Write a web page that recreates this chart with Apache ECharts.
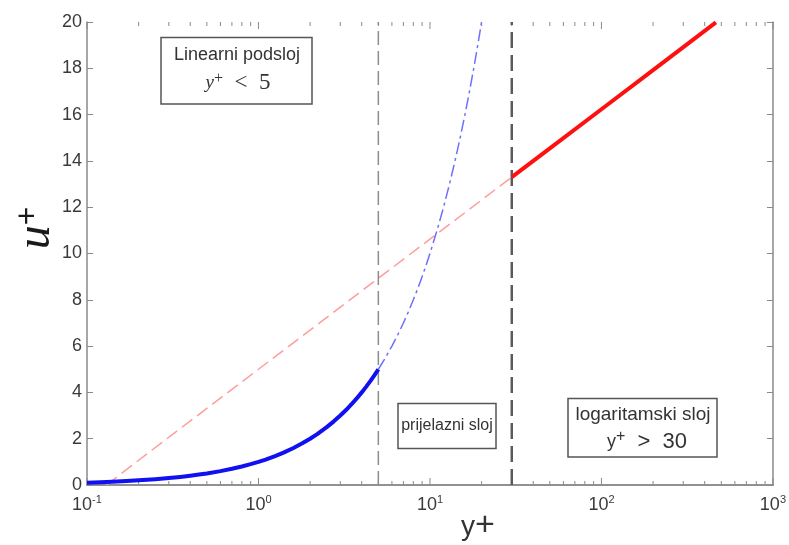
<!DOCTYPE html>
<html>
<head>
<meta charset="utf-8">
<script src="https://cdn.jsdelivr.net/npm/echarts@6/dist/echarts.min.js"></script>
<style>html,body{margin:0;padding:0;background:#fff;}#c{width:789px;height:545px;}</style>
</head>
<body>
<div id="c"></div>
<script>
// ---- data ----
const xTickExponents = ['-1', '0', '1', '2', '3'];
const xMajorTicks = [0.1, 1, 10, 100, 1000];
const xMinorTicks = [0.2,0.3,0.4,0.5,0.6,0.7,0.8,0.9, 2,3,4,5,6,7,8,9, 20,30,40,50,60,70,80,90, 200,300,400,500,600,700,800,900];
// viscous sublayer u+ = y+ (solid, y+ < 5)
const linearSolid = [[0.1,0.1],[0.12,0.12],[0.14,0.14],[0.17,0.17],[0.2,0.2],[0.25,0.25],[0.3,0.3],[0.35,0.35],[0.4,0.4],[0.45,0.45],[0.5,0.5],[0.6,0.6],[0.7,0.7],[0.8,0.8],[0.9,0.9],[1,1],[1.1,1.1],[1.25,1.25],[1.4,1.4],[1.6,1.6],[1.8,1.8],[2,2],[2.2,2.2],[2.5,2.5],[2.75,2.75],[3,3],[3.25,3.25],[3.5,3.5],[3.75,3.75],[4,4],[4.25,4.25],[4.5,4.5],[4.75,4.75],[5,5]];
// continuation of linear law (dashed)
const linearDashed = [[5,5],[5.5,5.5],[6,6],[6.5,6.5],[7,7],[7.5,7.5],[8,8],[8.5,8.5],[9,9],[9.5,9.5],[10,10],[11,11],[12,12],[13,13],[14,14],[15,15],[16,16],[17,17],[18,18],[19,19],[20,20]];
// log law extension (dashed, light red)
const logDashed = [[0.13,0],[0.2,1.07],[0.5,3.31],[1,5.0],[2,6.69],[5,8.93],[10,10.62],[20,12.31],[30,13.3]];
// log layer (solid red, y+ > 30)
const logSolid = [[30,13.3],[50,14.54],[100,16.23],[200,17.92],[465,19.98]];
// boundaries of regions
const boundary5 = [[5,0],[5,20]];
const boundary30 = [[30,0],[30,20]];

const chart = echarts.init(document.getElementById('c'), null, {renderer: 'canvas'});
const axisColor = '#8a8a8a';
const labelFont = 'Liberation Sans, Arial, sans-serif';

function tickSeries(values, len) {
  return {type: 'custom', xAxisIndex: 0, yAxisIndex: 0, silent: true, z: 1,
    data: values.map(v => [v]),
    encode: {x: 0},
    clip: false,
    renderItem: function (params, api) {
      const v = api.value(0);
      const b = api.coord([v, 0]);
      const t = api.coord([v, 20]);
      const st = {stroke: axisColor, lineWidth: 1};
      return {type: 'group', children: [
        {type: 'line', shape: {x1: b[0], y1: b[1], x2: b[0], y2: b[1] - len}, style: st},
        {type: 'line', shape: {x1: t[0], y1: t[1], x2: t[0], y2: t[1] + len}, style: st}
      ]};
    }};
}

const option = {
  animation: false,
  backgroundColor: '#fff',
  grid: {left: 87, right: 13, top: 22, bottom: 60, containLabel: false},
  xAxis: [{
    type: 'log', logBase: 10, min: 0.1, max: 1000, position: 'bottom',
    axisLine: {lineStyle: {color: axisColor, width: 1.5}},
    axisTick: {show: false},
    splitLine: {show: false},
    axisLabel: {
      margin: 9,
      formatter: function (v, i) { return '{b|10}{s|' + xTickExponents[i] + '}'; },
      rich: {
        b: {fontSize: 18, fontFamily: labelFont, color: '#3a3a3a', lineHeight: 22},
        s: {fontSize: 11, fontFamily: labelFont, color: '#3a3a3a', lineHeight: 12, verticalAlign: 'top'}
      }
    }
  }, {
    type: 'log', logBase: 10, min: 0.1, max: 1000, position: 'top',
    axisLine: {lineStyle: {color: axisColor, width: 1.5}},
    axisTick: {show: false},
    axisLabel: {show: false}, splitLine: {show: false}
  }],
  yAxis: [{
    type: 'value', min: 0, max: 20, interval: 2, position: 'left',
    axisLine: {show: true, lineStyle: {color: axisColor, width: 1.5}},
    axisTick: {show: true, inside: true, length: 6, lineStyle: {color: axisColor, width: 1}},
    splitLine: {show: false},
    axisLabel: {margin: 5, fontSize: 18, fontFamily: labelFont, color: '#3a3a3a'}
  }, {
    type: 'value', min: 0, max: 20, interval: 2, position: 'right',
    axisLine: {show: true, lineStyle: {color: axisColor, width: 1.5}},
    axisTick: {show: true, inside: true, length: 6, lineStyle: {color: axisColor, width: 1}},
    splitLine: {show: false}, axisLabel: {show: false}
  }],
  series: [
    tickSeries(xMinorTicks, 4),
    tickSeries(xMajorTicks, 7),
    {type: 'line', data: logDashed, showSymbol: false, symbol: 'none', z: 2,
     lineStyle: {color: '#ff9c9c', width: 1.5, type: [13, 6]}},
    {type: 'line', data: boundary5, showSymbol: false, symbol: 'none', z: 3,
     lineStyle: {color: '#8c8c8c', width: 1.5, type: [14, 6]}},
    {type: 'line', data: boundary30, showSymbol: false, symbol: 'none', z: 3,
     lineStyle: {color: '#5a5a5a', width: 2.5, type: [16, 7]}},
    {type: 'line', data: linearDashed, showSymbol: false, symbol: 'none', z: 4,
     lineStyle: {color: '#6f6fff', width: 1.5, type: [12, 4, 3, 4]}},
    {type: 'line', data: linearSolid, showSymbol: false, symbol: 'none', z: 5,
     lineStyle: {color: '#1010f0', width: 4, join: 'round'}},
    {type: 'line', data: logSolid, showSymbol: false, symbol: 'none', z: 5,
     lineStyle: {color: '#ff1010', width: 4}}
  ],
  graphic: [
    // y-axis name u+
    {type: 'text', x: 36, y: 228, rotation: Math.PI / 2, z: 10,
     style: {text: '{u|u}{p|+}', align: 'center', verticalAlign: 'middle',
       rich: {
         u: {fontSize: 48, fontStyle: 'italic', fontFamily: 'Liberation Serif, Times New Roman, serif', fill: '#1a1a1a', lineHeight: 48},
         p: {fontSize: 32, fontFamily: 'Liberation Sans, Arial, sans-serif', fill: '#1a1a1a', lineHeight: 30, verticalAlign: 'top'}
       }}},
    // x-axis name y+
    {type: 'text', x: 478, y: 527, z: 10,
     style: {text: '{y|y}{p|+}', align: 'center', verticalAlign: 'middle',
       rich: {
         y: {fontSize: 28, fontFamily: 'Liberation Sans, Arial, sans-serif', fill: '#333', lineHeight: 36},
         p: {fontSize: 34, fontFamily: 'Liberation Sans, Arial, sans-serif', fill: '#333', lineHeight: 26, verticalAlign: 'top'}
       }}},
    // box 1
    {type: 'rect', shape: {x: 161, y: 37.5, width: 151, height: 66.5}, z: 10,
     style: {fill: '#fff', stroke: '#555', lineWidth: 1.5}},
    {type: 'text', x: 237, y: 55, z: 11,
     style: {text: 'Linearni podsloj', align: 'center', verticalAlign: 'middle', fontSize: 18, fontFamily: labelFont, fill: '#333'}},
    {type: 'text', x: 238, y: 83, z: 11,
     style: {text: '{y|y}{p|+}{o|  <  5}', align: 'center', verticalAlign: 'middle',
       rich: {
         y: {fontSize: 19, fontStyle: 'italic', fontFamily: 'Liberation Serif, serif', fill: '#333', lineHeight: 24},
         p: {fontSize: 16, fontFamily: 'Liberation Serif, serif', fill: '#333', lineHeight: 14, verticalAlign: 'top'},
         o: {fontSize: 23, fontFamily: 'Liberation Serif, serif', fill: '#333', lineHeight: 24}
       }}},
    // box 2
    {type: 'rect', shape: {x: 398, y: 403.5, width: 98, height: 45}, z: 10,
     style: {fill: '#fff', stroke: '#555', lineWidth: 1.5}},
    {type: 'text', x: 447, y: 426, z: 11,
     style: {text: 'prijelazni sloj', align: 'center', verticalAlign: 'middle', fontSize: 16, fontFamily: labelFont, fill: '#333'}},
    // box 3
    {type: 'rect', shape: {x: 568, y: 398.5, width: 149, height: 58.5}, z: 10,
     style: {fill: '#fff', stroke: '#555', lineWidth: 1.5}},
    {type: 'text', x: 643, y: 415, z: 11,
     style: {text: 'logaritamski sloj', align: 'center', verticalAlign: 'middle', fontSize: 19, fontFamily: labelFont, fill: '#333'}},
    {type: 'text', x: 647, y: 442, z: 11,
     style: {text: '{y|y}{p|+}{o|  >  30}', align: 'center', verticalAlign: 'middle',
       rich: {
         y: {fontSize: 18, fontFamily: labelFont, fill: '#333', lineHeight: 26},
         p: {fontSize: 16, fontFamily: labelFont, fill: '#333', lineHeight: 14, verticalAlign: 'top'},
         o: {fontSize: 22, fontFamily: labelFont, fill: '#333', lineHeight: 26}
       }}}
  ]
};
chart.setOption(option);
</script>
</body>
</html>
